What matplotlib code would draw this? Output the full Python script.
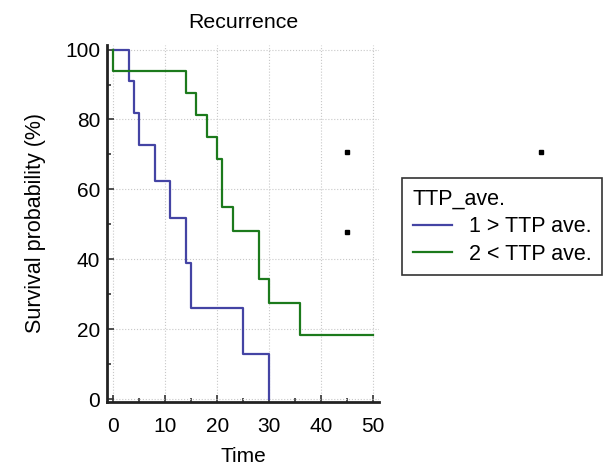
import numpy as np
import matplotlib.pyplot as plt

plt.rcParams['font.family'] = ['Liberation Sans', 'DejaVu Sans']

# Kaplan-Meier step data
t_low = [0, 3, 4, 5, 8, 11, 14, 15, 25, 30]
s_low = [100, 90.9, 81.8, 72.7, 62.3, 51.9, 39.0, 26.0, 13.0, 0]
t_high = [0, 0, 14, 16, 18, 20, 21, 23, 28, 30, 36, 50]
s_high = [100, 93.75, 87.5, 81.25, 75.0, 68.75, 55.0, 48.1, 34.4, 27.5, 18.3, 18.3]

# stray black dots in the original
dot_x = [45, 45, 82.3, 82.3]
dot_y = [70.7, 47.9, 70.7, 47.9]

labels = ['1 > TTP ave.', '2 < TTP ave.']
colors = ['#4444a4', '#1c7a1c']

fig = plt.figure(figsize=(6.09, 4.67), dpi=100)
ax = fig.add_axes([107.3/609, 1-401.7/467, (378.5-107.3)/609, (401.7-45)/467])

ax.step(t_low, s_low, where='post', color=colors[0], lw=1.6, label=labels[0])
ax.step(t_high, s_high, where='post', color=colors[1], lw=1.6, label=labels[1])
ax.plot(dot_x, dot_y, 's', color='black', ms=2.5, ls='none', clip_on=False)

ax.set_xlim(-1.15, 51)
ax.set_ylim(-0.7, 101.3)
ax.set_xticks(np.arange(0, 51, 10))
ax.set_xticks(np.arange(5, 50, 10), minor=True)
ax.set_yticks(np.arange(0, 101, 20))
ax.set_yticks(np.arange(10, 100, 20), minor=True)
ax.tick_params(which='both', direction='in', labelsize=15, width=1.2, color='#333333')
ax.tick_params(which='major', length=5)
ax.tick_params(which='minor', length=3)
ax.tick_params(axis='x', which='major', pad=11)
ax.tick_params(axis='y', which='major', pad=5)
ax.grid(True, which='major', color='#c8c8c8', ls=':', lw=0.8)

for s in ['top', 'right']:
    ax.spines[s].set_visible(False)
for s in ['left', 'bottom']:
    ax.spines[s].set_linewidth(2)
    ax.spines[s].set_color('#222222')

ax.set_title('Recurrence', fontsize=15.3, pad=12)
ax.set_xlabel('Time', fontsize=15, labelpad=8)
ax.set_ylabel('Survival probability (%)', fontsize=15.5, labelpad=14)

leg = fig.legend(loc='upper left', bbox_to_anchor=(402/609, 1-178/467),
                 title='TTP_ave.', fontsize=15.5, title_fontsize=15.5,
                 fancybox=False, edgecolor='#333333', framealpha=1,
                 handlelength=1.8, handletextpad=0.8, borderpad=0.5,
                 labelspacing=0.3, borderaxespad=0)
leg._legend_box.align = 'left'
leg.get_frame().set_linewidth(1.2)

fig.savefig('out.png', dpi=100)
